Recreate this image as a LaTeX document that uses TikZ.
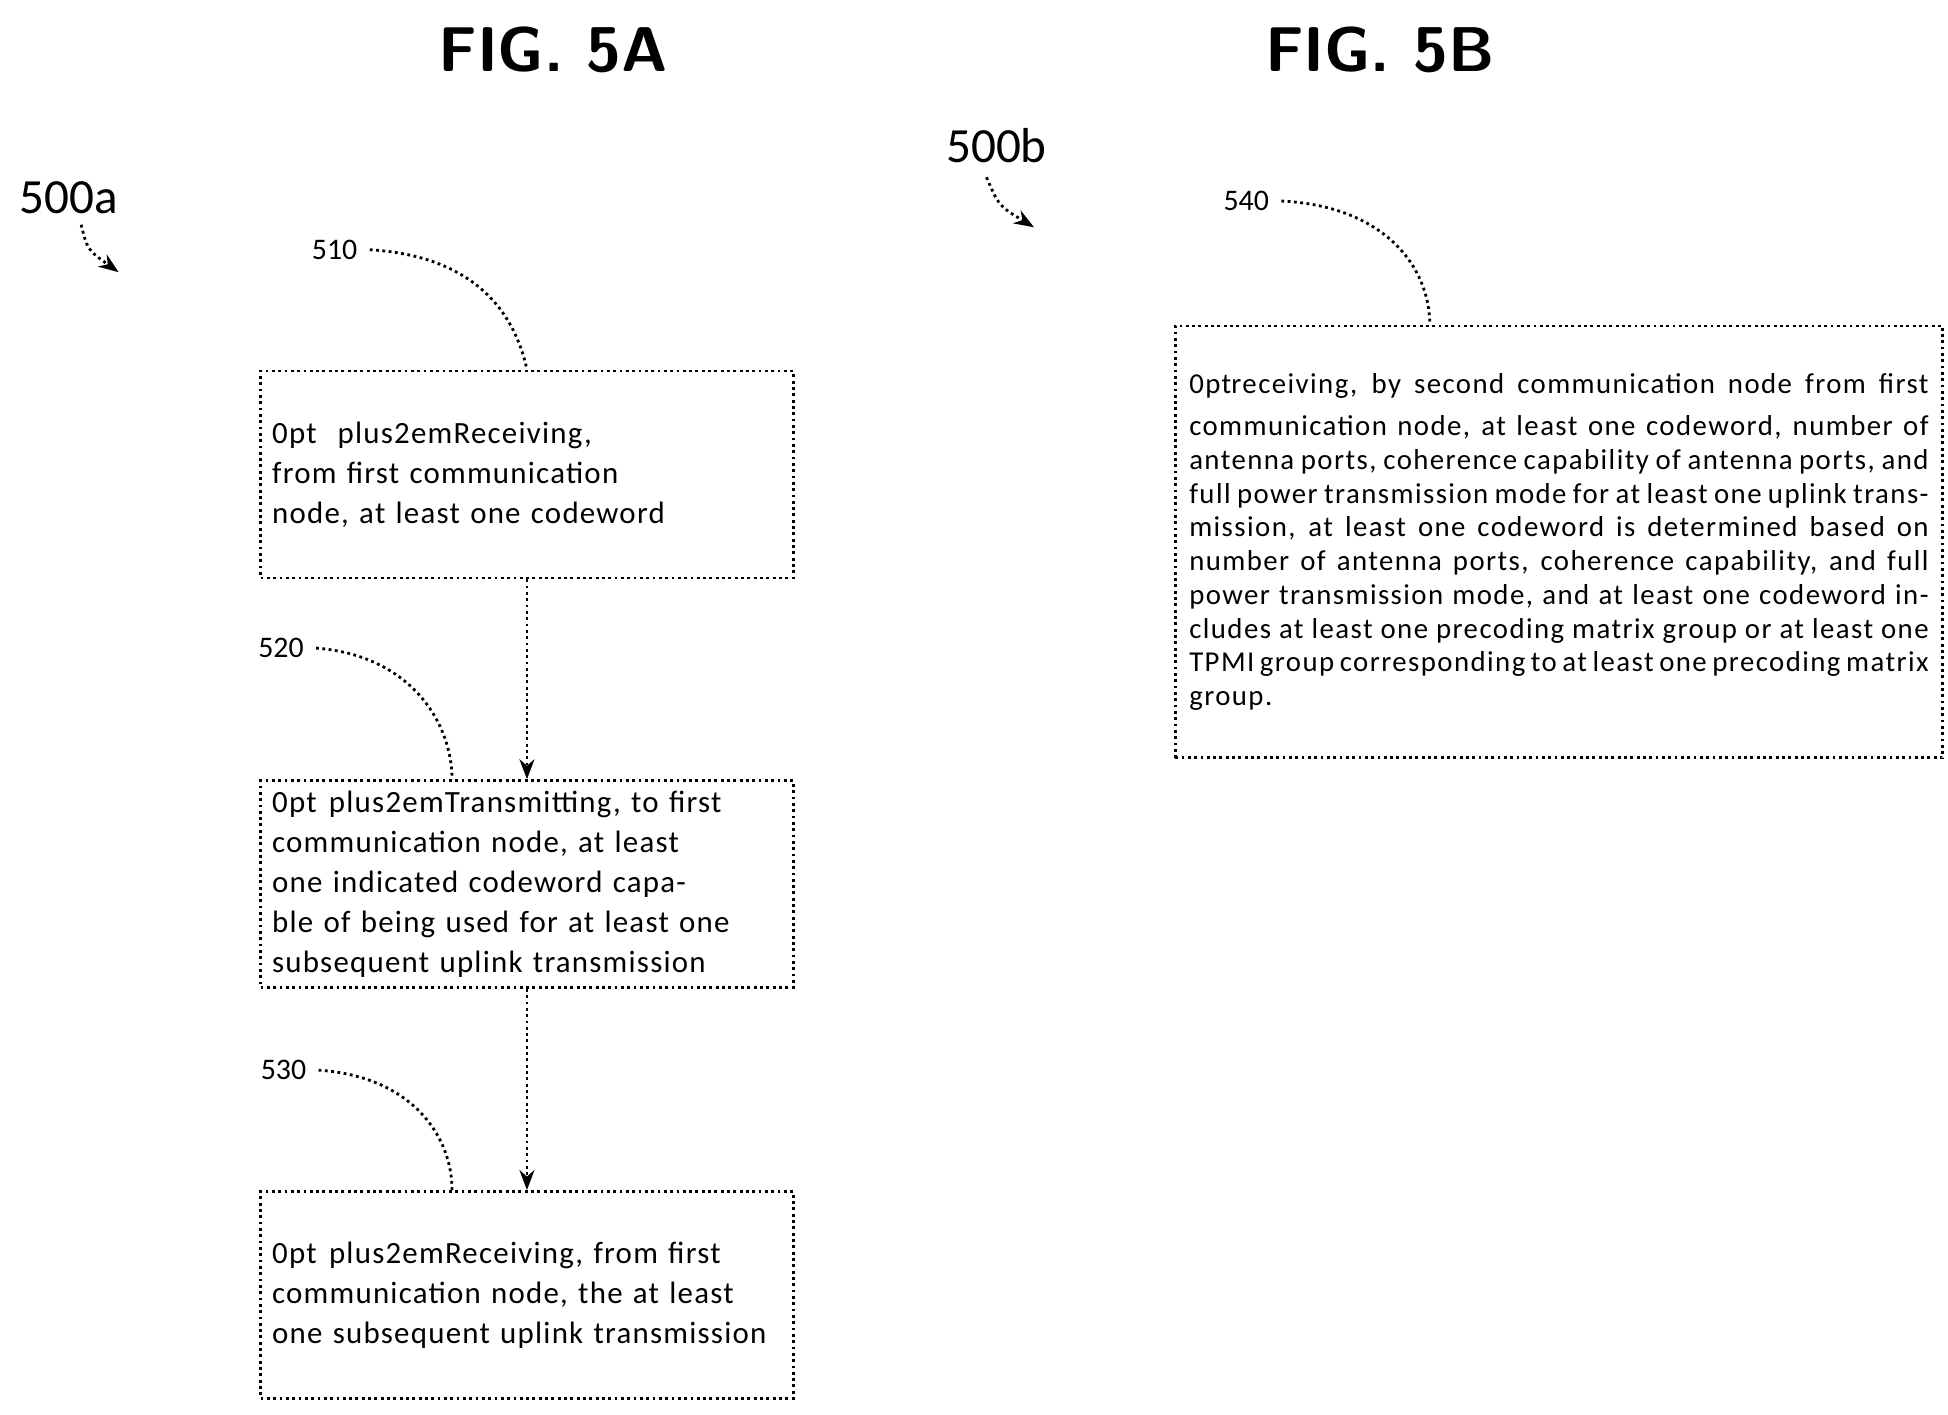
\documentclass[tikz,border=0pt]{standalone}
\usepackage{fontspec}
\setmainfont{Carlito}
\usetikzlibrary{arrows.meta,positioning}
\tikzset{
  stepbox/.style={draw,densely dotted,thick,minimum width=5.33cm,minimum height=2.07cm,align=center,text width=5.1cm,font=\fontsize{8.8}{11.4}\selectfont\addfontfeature{LetterSpace=4}\hyphenpenalty=10000,inner sep=2pt},
  ref/.style={font=\fontsize{8.5}{10}\selectfont},
  lead/.style={densely dotted,thick},
}
\begin{document}
\begin{tikzpicture}[x=0.01249cm,y=-0.01249cm,>={Stealth[length=2mm]}]
\useasboundingbox (0,0) rectangle (1560,1133);
\node[font=\fontsize{18}{20}\selectfont\bfseries\sffamily] (figa) at (443,40) {FIG. 5A};
\node[font=\fontsize{18}{20}\selectfont\bfseries\sffamily] (figb) at (1105,40) {FIG. 5B};
% step boxes
\node[stepbox] (s510) at (422,380) {Receiving, from first communication node, at least one codeword};
\node[stepbox] (s520) at (422,708) {Transmitting, to first communication node, at least one indicated codeword capable of being used for at least one subsequent uplink transmission};
\node[stepbox] (s530) at (422,1037) {Receiving, from first communication node, the at least one subsequent uplink transmission};
\node[draw,densely dotted,thick,minimum width=7.63cm,minimum height=4.32cm,text width=7.4cm,align=justify,anchor=north west,font=\fontsize{8.2}{9.6}\selectfont\addfontfeature{LetterSpace=5}\hyphenpenalty=10000,inner sep=4pt] (s540) at (940,260) {\vspace{0.3em}receiving, by second communication node from first communication node, at least one codeword, number of antenna ports, coherence capability of antenna ports, and full power transmission mode for at least one uplink transmission, at least one codeword is determined based on number of antenna ports, coherence capability, and full power transmission mode, and at least one codeword includes at least one precoding matrix group or at least one TPMI group corresponding to at least one precoding matrix group.\par\vspace{2.2em}};
\draw[lead,->] (s510) -- (s520);
\draw[lead,->] (s520) -- (s530);
% reference numerals
\node[ref] (n510) at (268,200) {510};
\node[ref] (n520) at (225,519) {520};
\node[ref] (n530) at (227,857) {530};
\node[ref] (n540) at (998,161) {540};
\draw[lead] (n510.east) .. controls (380,205) and (412,250) .. (s510.north);
\draw[lead] (n520.east) .. controls (330,525) and (362,580) .. (s520.north west -| 362,0);
\draw[lead] (n530.east) .. controls (330,862) and (362,910) .. (s530.north west -| 362,0);
\draw[lead] (n540.east) .. controls (1110,165) and (1145,215) .. (s540.north west -| 1145,0);
\node[font=\fontsize{14}{16}\selectfont] (n500a) at (55,158) {500a};
\node[font=\fontsize{14}{16}\selectfont] (n500b) at (798,117) {500b};
\coordinate (a500a) at (95,218);
\coordinate (a500b) at (828,182);
\draw[lead,->] (65,180) .. controls (70,200) .. (a500a);
\draw[lead,->] (790,142) .. controls (800,165) .. (a500b);
\end{tikzpicture}
\end{document}
